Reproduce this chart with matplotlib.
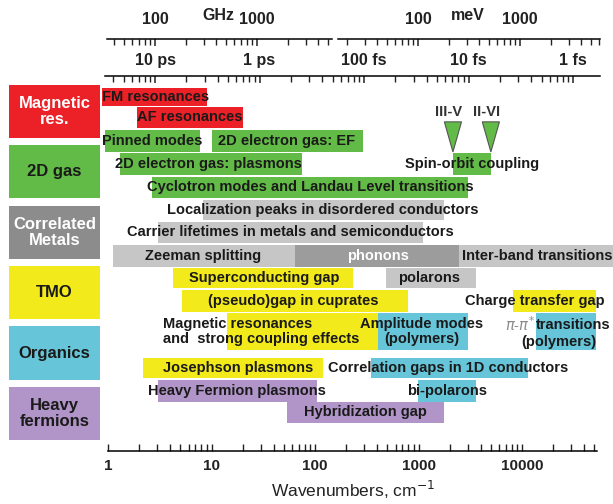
import numpy as np
import matplotlib.pyplot as plt
from matplotlib.ticker import LogLocator, NullFormatter, FixedLocator, FixedFormatter

plt.rcParams['font.family'] = ['Liberation Sans', 'DejaVu Sans']

W, H = 613, 504

# colours of the material groups
colors = {
    'mag': '#ec2027', 'gas': '#62bb46', 'corr': '#8c8c8c', 'tmo': '#f3ea1c',
    'org': '#66c5d8', 'hf': '#b195c8', 'lgray': '#c6c6c6', 'dgray': '#9c9c9c',
}

# left hand category boxes
categories = ['Magnetic\nres.', '2D gas', 'Correlated\nMetals', 'TMO', 'Organics', 'Heavy\nfermions']
category_groups = ['mag', 'gas', 'corr', 'tmo', 'org', 'hf']
category_text = ['white', '#1a1a1a', 'white', '#1a1a1a', '#1a1a1a', '#1a1a1a']

# bars (edges in cm-1), the row they sit in and where their label goes
bar_labels = ['FM resonances', 'AF resonances', 'Pinned modes', '2D electron gas: EF',
              '2D electron gas: plasmons', 'Spin-orbit coupling',
              'Cyclotron modes and Landau Level transitions',
              'Localization peaks in disordered conductors',
              'Carrier lifetimes in metals and semiconductors',
              'Zeeman splitting', 'phonons', 'Inter-band transitions',
              'Superconducting gap', 'polarons', '(pseudo)gap in cuprates', 'Charge transfer gap',
              'Magnetic resonances\nand  strong coupling effects', 'Amplitude modes\n(polymers)', '',
              'Josephson plasmons', 'Correlation gaps in 1D conductors',
              'Heavy Fermion plasmons', 'bi-polarons', 'Hybridization gap']
bar_lo = [0.87, 1.9, 0.93, 10.2, 1.31, 2150, 2.67, 8.3, 3.05, 1.12, 64.6, 2444,
          4.26, 480, 5.2, 8150, 14.2, 402, 13600, 2.18, 344, 3.05, 980, 54]
bar_hi = [9.1, 20, 7.8, 288, 75.5, 5000, 2985, 1750, 1096, 64.6, 2444, 75000,
          235, 3570, 784, 51800, 402, 2985, 51800, 120.6, 11380, 105.5, 3570, 1750]
bar_row = [0, 1, 2, 2, 3, 3, 4, 5, 6, 7, 7, 7, 8, 8, 9, 9, 10, 10, 10, 11, 11, 12, 12, 13]
bar_group = ['mag', 'mag', 'gas', 'gas', 'gas', 'gas', 'gas', 'lgray', 'lgray',
             'lgray', 'dgray', 'lgray', 'tmo', 'lgray', 'tmo', 'tmo', 'tmo', 'org', 'org',
             'tmo', 'org', 'hf', 'org', 'hf']
label_x = [2.85, 6.2, 2.67, 52.8, 9.4, 3300, 90, 120, 58, 8.3, 402, 13900,
           32.4, 1253, 62, 13300, 3.41, 1071, 22700, 18.1, 1914, 17.7, 1870, 307]
label_ha = ['center'] * 16 + ['left'] + ['center'] * 7
label_color = ['#1a1a1a'] * 10 + ['white'] + ['#1a1a1a'] * 13

# vertical layout of the rows
row_y = [0, 0.89, 1.95, 2.97, 4.0, 5.0, 5.98, 7.03, 8.0, 9.02, 10.37, 12.0, 13.02, 13.95]
row_h = [0.8, 0.92, 0.95, 0.97, 0.92, 0.92, 0.92, 0.96, 0.9, 0.96, 1.64, 0.9, 0.96, 0.92]

# band edges III-V / II-VI markers
marker_labels = ['III-V', 'II-VI']
marker_x = [2150, 5000]

# top scales
ghz_ticks = [100, 1000]
mev_ticks = [100, 1000]
ps_ticks = [0.1, 1, 10, 100, 1000]
ps_labels = ['10 ps', '1 ps', '100 fs', '10 fs', '1 fs']
wn_ticks = [1, 10, 100, 1000, 10000]

fig = plt.figure(figsize=(W / 100, H / 100), dpi=100)
YLIM = (15.66, -0.575)


def px_axes(x0, y0, x1, y1):
    return fig.add_axes([x0 / W, 1 - y1 / H, (x1 - x0) / W, (y1 - y0) / H])


def scale_axes(x0, x1, y, lim, ticks, labels, pad):
    a = px_axes(x0, y, x1, y + 10)
    a.set_xscale('log')
    a.set_xlim(lim)
    a.patch.set_visible(False)
    for s in ['left', 'right', 'bottom']:
        a.spines[s].set_visible(False)
    a.spines['top'].set_linewidth(1.1)
    a.set_yticks([])
    a.xaxis.set_ticks_position('top')
    a.xaxis.set_major_locator(FixedLocator(ticks))
    a.xaxis.set_major_formatter(FixedFormatter(labels))
    a.xaxis.set_minor_locator(LogLocator(base=10, subs=np.arange(2, 10), numticks=50))
    a.xaxis.set_minor_formatter(NullFormatter())
    a.tick_params(axis='x', which='both', direction='in', labelsize=11.5, pad=pad,
                  colors='#222222')
    a.tick_params(axis='x', which='major', length=5, width=1.1)
    a.tick_params(axis='x', which='minor', length=4, width=1.0)
    for t in a.get_xticklabels():
        t.set_fontweight('bold')
    return a


scale_axes(107, 332, 39, (33.9, 5435), ghz_ticks, ['100', '1000'], 8.5)
scale_axes(338, 600, 39, (16.4, 6090), mev_ticks, ['100', '1000'], 8.5)
scale_axes(105, 600, 76, (0.0332, 1812), ps_ticks, ps_labels, 6)
fig.text(218 / W, 1 - 15 / H, 'GHz', ha='center', va='center', fontsize=11.5,
         fontweight='bold', color='#222222')
fig.text(468 / W, 1 - 15 / H, 'meV', ha='center', va='center', fontsize=11.5,
         fontweight='bold', color='#222222')

# category column
axl = px_axes(9, 84, 100, 451)
axl.set_xlim(0, 1)
axl.set_ylim(YLIM)
axl.axis('off')
for i, (name, g, tc) in enumerate(zip(categories, category_groups, category_text)):
    top = -0.53 + i * 2.67
    axl.bar(0.5, 2.35, bottom=top, width=1.0, color=colors[g], edgecolor='none')
    axl.text(0.5, top + 1.175, name, ha='center', va='center', fontsize=12,
             fontweight='bold', color=tc, linespacing=1.05)

# main chart
ax = px_axes(108, 84, 597, 451)
ax.set_xscale('log')
ax.set_xlim(1, 53000)
ax.set_ylim(YLIM)
for s in ['left', 'right', 'top']:
    ax.spines[s].set_visible(False)
ax.spines['bottom'].set_linewidth(1.1)
ax.set_yticks([])
ax.xaxis.set_major_locator(FixedLocator(wn_ticks))
ax.xaxis.set_major_formatter(FixedFormatter([str(t) for t in wn_ticks]))
ax.xaxis.set_minor_locator(LogLocator(base=10, subs=np.arange(2, 10), numticks=50))
ax.xaxis.set_minor_formatter(NullFormatter())
ax.tick_params(axis='x', which='both', direction='in', length=5, width=1.0,
               labelsize=11, pad=6, colors='#222222')
for t in ax.get_xticklabels():
    t.set_fontweight('bold')
ax.set_xlabel('Wavenumbers, cm$^{-1}$', fontsize=12.5, labelpad=4, color='#222222')

for lab, lo, hi, r, g, tx, ha, tc in zip(bar_labels, bar_lo, bar_hi, bar_row, bar_group,
                                         label_x, label_ha, label_color):
    ax.barh(row_y[r], hi - lo, left=lo, height=row_h[r], color=colors[g],
            edgecolor='none', clip_on=False, zorder=1)
    if lab:
        ax.text(tx, row_y[r], lab, ha=ha, va='center', fontsize=10.5, fontweight='bold',
                color=tc, clip_on=False, zorder=3, linespacing=1.15)

# pi-pi* label, split in two colours
r = row_y[10]
ax.text(13600, r - 0.3, r'$\pi$-$\pi^{*}$ ', ha='right', va='center', fontsize=10.5,
        color='#8a8a8a', zorder=3)
ax.text(13600, r - 0.3, 'transitions', ha='left', va='center', fontsize=10.5,
        fontweight='bold', color='#1a1a1a', clip_on=False, zorder=3)
ax.text(22700, r + 0.45, '(polymers)', ha='center', va='center', fontsize=10.5,
        fontweight='bold', color='#1a1a1a', zorder=3)

# III-V and II-VI markers
for lab, mx in zip(marker_labels, marker_x):
    ax.fill([mx / 1.21, mx * 1.21, mx], [1.1, 1.1, 2.43], color=colors['gas'],
            edgecolor='#555555', linewidth=0.8, zorder=2)
    ax.text(mx / 1.1, 0.68, lab, ha='center', va='center', fontsize=10.5,
            fontweight='bold', color='#333333')

fig.savefig('out.png', dpi=100)
